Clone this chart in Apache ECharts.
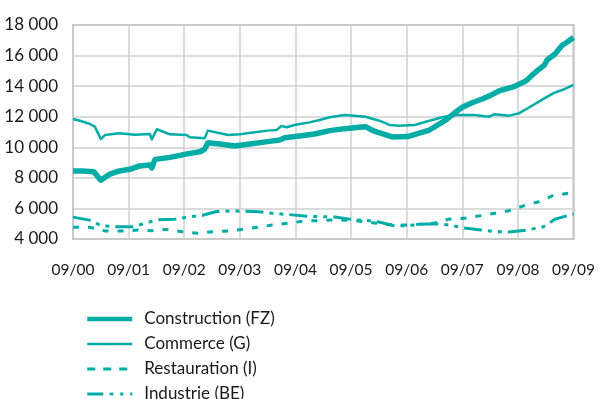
<!DOCTYPE html>
<html>
<head>
<meta charset="utf-8">
<title>Emploi par secteur</title>
<script src="https://cdn.jsdelivr.net/npm/echarts@6/dist/echarts.min.js"></script>
<style>
  html, body { margin: 0; padding: 0; background: #ffffff; }
  #chart { width: 598px; height: 399px; }
</style>
</head>
<body>
<div id="chart"></div>
<script>
// Month offsets are counted from 09/2000 (0) to 09/2009 (108).
const tickLabels = ['09/00', '09/01', '09/02', '09/03', '09/04', '09/05', '09/06', '09/07', '09/08', '09/09'];
const seriesNames = ['Construction (FZ)', 'Commerce (G)', 'Restauration (I)', 'Industrie (BE)'];

const constructionMonths = [0, 2, 4.5, 6, 8, 10, 12.3, 14.4, 16.6, 17, 17.7, 20.9, 25.2, 27.4, 28.4, 29.1, 31.7, 34.9, 38.1, 42, 44.6, 45.7, 48.9, 52.1, 55.4, 58.6, 60.7, 62.2, 63.1, 65, 68.9, 72.2, 76.9, 80.5, 82.7, 84, 86, 88.3, 90, 92, 95, 97.4, 98, 99.5, 100.2, 101.7, 102.3, 104, 105.6, 106.5, 108];
const constructionValues = [8450, 8450, 8400, 7850, 8250, 8450, 8560, 8780, 8840, 8650, 9210, 9340, 9600, 9710, 9870, 10300, 10220, 10080, 10220, 10370, 10480, 10630, 10740, 10870, 11090, 11220, 11280, 11330, 11350, 11050, 10680, 10700, 11130, 11790, 12330, 12620, 12900, 13160, 13380, 13700, 13950, 14290, 14410, 14840, 15010, 15380, 15710, 16100, 16690, 16850, 17180];

const commerceMonths = [0, 1.5, 3.7, 4.7, 6, 6.9, 10, 13.4, 16.6, 17, 18.1, 20.9, 24.5, 25.2, 28.4, 29.1, 31.7, 33.5, 36, 39.2, 42, 43.9, 45, 46.1, 47.8, 51, 53.2, 55.4, 58.6, 60.7, 63.1, 66.1, 68.3, 70.4, 73.7, 76.9, 80.1, 82.9, 86.6, 89.8, 90.9, 94.1, 96.3, 98.4, 101.7, 103.8, 106, 108];
const commerceValues = [11850, 11740, 11520, 11350, 10540, 10800, 10920, 10820, 10870, 10520, 11180, 10850, 10800, 10650, 10590, 11090, 10920, 10800, 10850, 10980, 11090, 11130, 11390, 11310, 11460, 11630, 11790, 11960, 12110, 12070, 12000, 11740, 11460, 11410, 11460, 11740, 12000, 12110, 12110, 12000, 12160, 12070, 12230, 12600, 13200, 13560, 13800, 14080];

const restaurationMonths = [0, 3.5, 7, 11, 14, 17, 20, 23.5, 27, 30, 33.6, 36, 40, 43, 46.5, 50, 53, 57, 61, 65, 69, 72, 74.5, 78, 81, 84.5, 88, 91, 94, 97, 100.5, 103.5, 107, 108];
const restaurationValues = [4770, 4770, 4520, 4520, 4590, 4540, 4630, 4480, 4370, 4480, 4520, 4610, 4770, 4920, 5030, 5180, 5200, 5250, 5200, 5050, 4920, 4920, 4960, 5050, 5290, 5350, 5530, 5680, 5850, 6150, 6440, 6830, 7000, 7030];

const industrieMonths = [0, 4, 6, 9, 13, 15, 18, 22, 24.5, 28, 31, 34, 37, 40, 43, 46.5, 50, 53, 56.5, 61, 64, 66, 69.5, 72, 75, 78, 81, 84.5, 88, 91, 94, 98, 101.5, 104, 108];
const industrieValues = [5430, 5210, 4870, 4800, 4800, 4980, 5250, 5300, 5420, 5550, 5800, 5830, 5820, 5780, 5680, 5600, 5500, 5460, 5440, 5240, 5200, 5110, 4850, 4870, 4960, 5000, 4920, 4720, 4590, 4480, 4460, 4590, 4800, 5290, 5640];

const teal = '#00ADA6';
const fontFamily = 'Lato, "Noto Sans", sans-serif';

// Line width and dash pattern per series, shared by the plot and the legend keys.
const lineWidths = [5.5, 2.5, 3, 3];
const lineDashes = ['solid', 'solid', [6, 9], [18, 6, 4, 6, 4, 6]];

function pairs(months, values) {
  return months.map((m, i) => [m, values[i]]);
}

function lineSeries(idx, data) {
  return {
    name: seriesNames[idx],
    type: 'line',
    data: data,
    symbol: 'none',
    smooth: false,
    lineStyle: { color: teal, width: lineWidths[idx], type: lineDashes[idx], cap: 'butt', join: 'round' },
    itemStyle: { color: teal },
    emphasis: { disabled: true }
  };
}

const legendKeyWidths = [4.5, 2.5, 3, 3];
const legendKeyDashes = ['solid', 'solid', [8, 8], [16, 7, 3, 7, 3, 7]];

const chart = echarts.init(document.getElementById('chart'), null, { renderer: 'canvas' });

chart.setOption({
  animation: false,
  backgroundColor: '#ffffff',
  grid: {
    left: 73, top: 25, right: 23, bottom: 160,
    show: true, borderColor: '#b9b9b9', borderWidth: 2, backgroundColor: 'transparent'
  },
  xAxis: {
    type: 'value',
    min: 0, max: 108, interval: 12,
    axisLine: { show: false },
    axisTick: { show: false },
    splitLine: { show: true, lineStyle: { color: '#cfcfcf', width: 1.5 } },
    axisLabel: {
      margin: 23,
      color: '#1a1a1a',
      fontFamily: fontFamily,
      fontSize: 15.5,
      formatter: v => tickLabels[Math.round(v / 12)]
    }
  },
  yAxis: {
    type: 'value',
    min: 4000, max: 18000, interval: 2000,
    axisLine: { show: false },
    axisTick: { show: false },
    splitLine: { show: true, lineStyle: { color: '#cfcfcf', width: 1.5 } },
    axisLabel: {
      margin: 15,
      color: '#1a1a1a',
      fontFamily: fontFamily,
      fontSize: 17,
      formatter: v => String(v).replace(/\B(?=(\d{3})+(?!\d))/g, ' ')
    }
  },
  legend: {
    orient: 'vertical',
    left: 85,
    top: 310,
    height: 140,
    padding: 0,
    itemWidth: 45,
    itemHeight: 2,
    itemGap: 7,
    selectedMode: false,
    data: seriesNames.map((name, i) => ({
      name: name,
      lineStyle: { color: teal, width: legendKeyWidths[i], type: legendKeyDashes[i], cap: 'butt' }
    })),
    textStyle: {
      color: '#1a1a1a',
      fontFamily: fontFamily,
      fontSize: 17,
      lineHeight: 18,
      padding: [0, 0, 0, 7]
    }
  },
  series: [
    lineSeries(0, pairs(constructionMonths, constructionValues)),
    lineSeries(1, pairs(commerceMonths, commerceValues)),
    lineSeries(2, pairs(restaurationMonths, restaurationValues)),
    lineSeries(3, pairs(industrieMonths, industrieValues))
  ]
});
</script>
</body>
</html>
